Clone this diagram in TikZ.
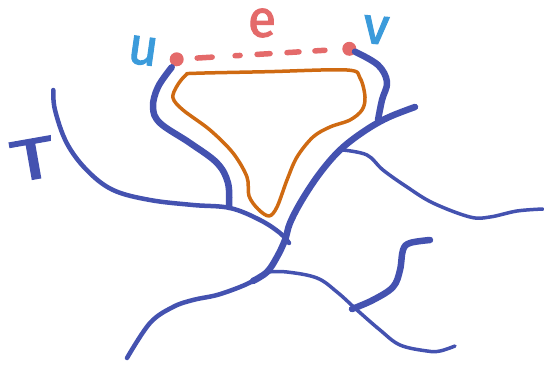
\documentclass[tikz,border=0pt]{standalone}
\usepackage{fontspec}
\setmainfont{Fira Sans}
\newfontfamily\sketchfont{Fira Sans}[FakeBold=2]
\definecolor{treeblue}{RGB}{68,82,176}
\definecolor{cycorange}{RGB}{207,106,18}
\definecolor{edgered}{RGB}{228,106,106}
\definecolor{lblblue}{RGB}{59,155,219}
\tikzset{
  tree/.style={draw=treeblue, line cap=round, line join=round},
  thickt/.style={tree, line width=6.5pt},
  medt/.style={tree, line width=4.5pt},
  thint/.style={tree, line width=3.5pt},
  cycle/.style={draw=cycorange, line width=3.5pt, line join=round},
  dot/.style={circle, fill=edgered, minimum size=14pt, inner sep=0pt, outer sep=0pt},
  ndlabel/.style={text=lblblue, font=\sketchfont\bfseries\fontsize{52}{52}\selectfont, inner sep=0pt},
  edlabel/.style={text=edgered, font=\sketchfont\bfseries\fontsize{52}{52}\selectfont, inner sep=0pt},
  treelabel/.style={text=treeblue, font=\sketchfont\bfseries\fontsize{58}{58}\selectfont, inner sep=0pt},
  nontree/.style={draw=edgered, line width=5.5pt, line cap=round,
    dash pattern=on 15pt off 23pt on 5pt off 17pt on 13pt off 17pt on 12pt off 16pt on 10pt off 50pt,
    dash phase=164.5pt}
}
\begin{document}
\begin{tikzpicture}[x=1pt,y=-1pt]
\useasboundingbox (0,0) rectangle (544,367);
% nodes
\node[dot] (u) at (176.7,59.3) {};
\node[dot] (v) at (349.3,48.8) {};
\node[ndlabel, font=\sketchfont\mdseries\fontsize{52}{52}\selectfont, rotate=-8] (ulabel) at (143,51) {u};
\node[ndlabel, font=\sketchfont\mdseries\fontsize{52}{52}\selectfont, rotate=-5] (vlabel) at (376,30) {v};
\node[edlabel, font=\sketchfont\mdseries\fontsize{52}{52}\selectfont] (elabel) at (262,23) {e};
\node[treelabel, font=\sketchfont\mdseries\fontsize{58}{58}\selectfont, rotate=10, xscale=1.45] (tlabel) at (33,159) {T};
% non-tree edge
\draw[nontree] (u) -- (v);
% orange cycle
\draw[cycle] plot[smooth cycle, tension=0.55] coordinates {
  (195,73.3) (267,71.7) (347,70) (360,78) (365,97) (362,110) (350,120)
  (330,127) (313,137) (297,157) (287,180) (277,207) (269,216)
  (258,209) (249,196) (247,177) (233,153) (210,130) (183,110) (173,98) (177,86) (186,75)};
% tree branches
\draw[medt] plot[smooth, tension=0.6] coordinates {
  (53.3,90) (55,110) (66.7,143) (86.7,170) (113,190) (150,200) (193,205) (230,208) (260,220) (280,233) (289,243)};
\path (u) ++(-5,8) coordinate (ubranch);
\draw[thickt] plot[smooth, tension=0.6] coordinates {
  (ubranch) (158,87) (153,107) (160,123) (190,143) (217,163) (228,183) (229,207)};
\draw[thickt] plot[smooth, tension=0.6] coordinates {
  (355,51.7) (378,65) (387,82) (382,100) (378,120)};
\draw[thickt] plot[smooth, tension=0.6] coordinates {
  (415,107) (387,118) (363,132) (340,150) (320,173) (302,200) (290,223) (285,240) (277,257) (267,272) (253,281)};
\draw[medt] plot[smooth, tension=0.6] coordinates {
  (253,281) (240,287) (217,295) (193,300) (173,307) (150,323) (127,358)};
\draw[thint] plot[smooth, tension=0.6] coordinates {
  (343,150) (367,155) (383,170) (407,187) (433,203) (470,217) (490,217) (517,211) (543,209)};
\draw[thint] plot[smooth, tension=0.6] coordinates {
  (267,272) (287,272) (317,278) (337,292) (357,310) (380,330) (400,345) (427,351) (440,351) (455,346)};
\draw[thickt] plot[smooth, tension=0.6] coordinates {
  (430,240) (410,243) (403,250) (400,270) (393,287) (373,300) (352,309)};
\end{tikzpicture}
\end{document}
